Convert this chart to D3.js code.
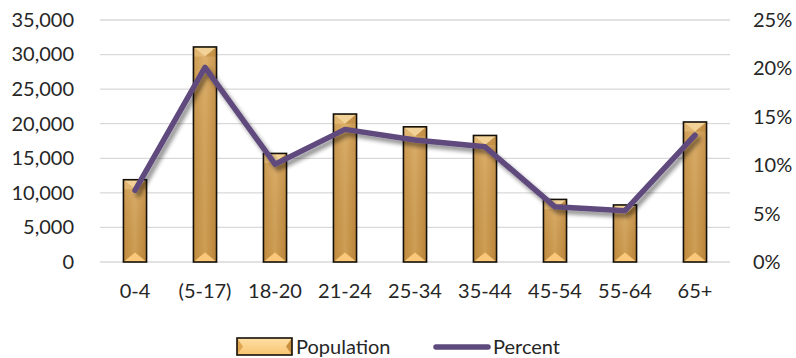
<!DOCTYPE html>
<html>
<head>
<meta charset="utf-8">
<script src="https://cdn.jsdelivr.net/npm/d3@7/dist/d3.min.js"></script>
<style>
  html, body { margin: 0; padding: 0; background: #fff; }
  svg { display: block; font-family: Lato, "Open Sans", sans-serif; }
</style>
</head>
<body>
<svg id="chart" width="796" height="358"></svg>
<script>
// Age groups and their counts
const categories = ["0-4", "(5-17)", "18-20", "21-24", "25-34", "35-44", "45-54", "55-64", "65+"];
const population = [11900, 31100, 15700, 21400, 19550, 18300, 9050, 8250, 20250];
const percent = [7.4, 20.1, 10.1, 13.7, 12.6, 11.9, 5.7, 5.3, 13.1];
const leftTicks = [0, 5000, 10000, 15000, 20000, 25000, 30000, 35000];
const rightTicks = [0, 5, 10, 15, 20, 25];
const seriesNames = ["Population", "Percent"];

const svg = d3.select("#chart");
const plot = { left: 100, right: 730, top: 20, bottom: 262 };
const textColor = "#262626";
const fontSize = "20px";

const x = d3.scaleBand().domain(categories)
  .range([plot.left, plot.right]).paddingInner(0.67).paddingOuter(0.335);
const yL = d3.scaleLinear().domain([0, 35000]).range([plot.bottom, plot.top]);
const yR = d3.scaleLinear().domain([0, 25]).range([plot.bottom, plot.top]);

const defs = svg.append("defs");
const body = defs.append("linearGradient").attr("id", "barBody")
  .attr("x1", 0).attr("x2", 1).attr("y1", 0).attr("y2", 0);
body.append("stop").attr("offset", 0).attr("stop-color", "#c99140");
body.append("stop").attr("offset", 0.5).attr("stop-color", "#d8a659");
body.append("stop").attr("offset", 1).attr("stop-color", "#c48a3a");
const vshade = defs.append("linearGradient").attr("id", "barV")
  .attr("x1", 0).attr("x2", 0).attr("y1", 0).attr("y2", 1);
vshade.append("stop").attr("offset", 0).attr("stop-color", "#ffffff").attr("stop-opacity", 0.12);
vshade.append("stop").attr("offset", 1).attr("stop-color", "#000000").attr("stop-opacity", 0.05);
const legendFill = defs.append("linearGradient").attr("id", "legendFill")
  .attr("x1", 0).attr("x2", 0).attr("y1", 0).attr("y2", 1);
legendFill.append("stop").attr("offset", 0).attr("stop-color", "#fde0a6");
legendFill.append("stop").attr("offset", 1).attr("stop-color", "#f8c470");

const shadow = defs.append("filter").attr("id", "lineShadow")
  .attr("x", "-10%").attr("y", "-10%").attr("width", "130%").attr("height", "140%");
shadow.append("feGaussianBlur").attr("in", "SourceAlpha").attr("stdDeviation", 2.2).attr("result", "b");
shadow.append("feOffset").attr("in", "b").attr("dx", 2.5).attr("dy", 3.5).attr("result", "o");
shadow.append("feComponentTransfer").attr("in", "o").attr("result", "s")
  .append("feFuncA").attr("type", "linear").attr("slope", 0.45);
const merge = shadow.append("feMerge");
merge.append("feMergeNode").attr("in", "s");
merge.append("feMergeNode").attr("in", "SourceGraphic");

// Gridlines
svg.append("g").selectAll("line").data(leftTicks).join("line")
  .attr("x1", plot.left).attr("x2", plot.right)
  .attr("y1", d => yL(d)).attr("y2", d => yL(d))
  .attr("stroke", "#d9d9d9").attr("stroke-width", 1.3);

// Axes (labels only)
const fmt = d3.format(",");
const leftAxis = svg.append("g").attr("transform", `translate(${plot.left - 26},0)`)
  .call(d3.axisLeft(yL).tickValues(leftTicks).tickFormat(fmt).tickSize(0).tickPadding(0));
const rightAxis = svg.append("g").attr("transform", `translate(${plot.right + 23},0)`)
  .call(d3.axisRight(yR).tickValues(rightTicks).tickFormat(d => d + "%").tickSize(0).tickPadding(0));
const bottomAxis = svg.append("g").attr("transform", `translate(0,${plot.bottom + 17})`)
  .call(d3.axisBottom(x).tickSize(0).tickPadding(0));
[leftAxis, rightAxis, bottomAxis].forEach(a => {
  a.select(".domain").remove();
  a.selectAll("text").attr("fill", textColor).style("font-size", fontSize)
    .style("font-family", "Lato, 'Open Sans', sans-serif");
});
bottomAxis.selectAll("text").attr("dy", "0.95em");

// Bevelled bar
function drawBar(g, x0, y0, w, h) {
  const b = Math.min(6, w / 2, h / 2);
  g.append("rect").attr("x", x0).attr("y", y0).attr("width", w).attr("height", h)
    .attr("fill", "url(#barBody)");
  g.append("rect").attr("x", x0).attr("y", y0).attr("width", w).attr("height", h)
    .attr("fill", "url(#barV)");
  // top bevel
  g.append("path").attr("d", `M${x0},${y0}L${x0 + w},${y0}L${x0 + w / 2},${y0 + b * 1.6}Z`)
    .attr("fill", "#f3d297");
  g.append("path").attr("d", `M${x0},${y0}L${x0 + w / 2},${y0 + b * 1.6}L${x0},${y0 + b * 1.6}Z`)
    .attr("fill", "#e8bf7c").attr("opacity", 0.7);
  g.append("path").attr("d", `M${x0 + w},${y0}L${x0 + w / 2},${y0 + b * 1.6}L${x0 + w},${y0 + b * 1.6}Z`)
    .attr("fill", "#b98436").attr("opacity", 0.5);
  // bottom bevel
  g.append("path").attr("d", `M${x0},${y0 + h}L${x0 + w},${y0 + h}L${x0 + w / 2},${y0 + h - b * 1.6}Z`)
    .attr("fill", "#fbc879");
  g.append("rect").attr("x", x0).attr("y", y0).attr("width", w).attr("height", h)
    .attr("fill", "none").attr("stroke", "#141008").attr("stroke-width", 1.6);
}

const bars = svg.append("g");
categories.forEach((c, i) => {
  const g = bars.append("g");
  const y0 = yL(population[i]);
  drawBar(g, x(c), y0, x.bandwidth(), yL(0) - y0);
});

// Percent line
const line = d3.line()
  .x((d, i) => x(categories[i]) + x.bandwidth() / 2)
  .y(d => yR(d));
svg.append("path").datum(percent)
  .attr("d", line)
  .attr("fill", "none").attr("stroke", "#5e4a7d").attr("stroke-width", 5.5)
  .attr("stroke-linejoin", "round").attr("stroke-linecap", "round")
  .attr("filter", "url(#lineShadow)");

// Legend
const lg = svg.append("g");
const sw = { x: 237, y: 338, w: 55, h: 17 };
lg.append("rect").attr("x", sw.x).attr("y", sw.y).attr("width", sw.w).attr("height", sw.h)
  .attr("fill", "url(#legendFill)");
lg.append("path")
  .attr("d", `M${sw.x},${sw.y}L${sw.x + 6},${sw.y + sw.h / 2}L${sw.x},${sw.y + sw.h}Z`)
  .attr("fill", "#e0a650");
lg.append("path")
  .attr("d", `M${sw.x + sw.w},${sw.y}L${sw.x + sw.w - 6},${sw.y + sw.h / 2}L${sw.x + sw.w},${sw.y + sw.h}Z`)
  .attr("fill", "#c98f3e");
lg.append("rect").attr("x", sw.x).attr("y", sw.y).attr("width", sw.w).attr("height", sw.h)
  .attr("fill", "none").attr("stroke", "#141008").attr("stroke-width", 1.6);
lg.append("text").attr("x", 296).attr("y", 354).text(seriesNames[0])
  .style("font-size", fontSize).attr("fill", textColor);
lg.append("line").attr("x1", 436).attr("x2", 488).attr("y1", 347).attr("y2", 347)
  .attr("stroke", "#5e4a7d").attr("stroke-width", 5.5).attr("stroke-linecap", "round");
lg.append("text").attr("x", 493).attr("y", 354).text(seriesNames[1])
  .style("font-size", fontSize).attr("fill", textColor);
</script>
</body>
</html>
